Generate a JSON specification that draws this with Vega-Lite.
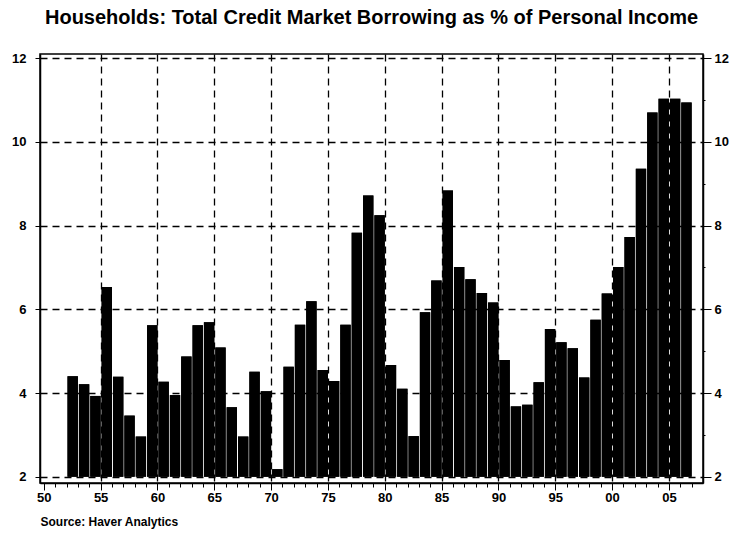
{
  "$schema": "https://vega.github.io/schema/vega-lite/v6.json",
  "width": 663,
  "height": 429,
  "autosize": "none",
  "padding": {"left": 40, "top": 54, "right": 33, "bottom": 53},
  "background": "white",
  "config": {
    "font": "Liberation Sans",
    "view": {"stroke": "black", "strokeWidth": 1.5},
    "axis": {"labelFont": "Liberation Sans", "labelFontWeight": "bold", "labelFontSize": 13, "labelColor": "black", "tickColor": "black", "domainColor": "black"}
  },
  "title": {
    "text": "Households: Total Credit Market Borrowing as % of Personal Income",
    "fontSize": 20,
    "fontWeight": "bold",
    "font": "Liberation Sans",
    "anchor": "middle",
    "offset": 24,
    "color": "black"
  },
  "data": {
    "values": [
      {"year": "1952", "value": 4.4},
      {"year": "1953", "value": 4.21},
      {"year": "1954", "value": 3.93},
      {"year": "1955", "value": 6.53},
      {"year": "1956", "value": 4.39},
      {"year": "1957", "value": 3.46},
      {"year": "1958", "value": 2.96},
      {"year": "1959", "value": 5.62},
      {"year": "1960", "value": 4.27},
      {"year": "1961", "value": 3.95},
      {"year": "1962", "value": 4.87},
      {"year": "1963", "value": 5.62},
      {"year": "1964", "value": 5.69},
      {"year": "1965", "value": 5.09},
      {"year": "1966", "value": 3.66},
      {"year": "1967", "value": 2.96},
      {"year": "1968", "value": 4.51},
      {"year": "1969", "value": 4.04},
      {"year": "1970", "value": 2.18},
      {"year": "1971", "value": 4.63},
      {"year": "1972", "value": 5.63},
      {"year": "1973", "value": 6.19},
      {"year": "1974", "value": 4.55},
      {"year": "1975", "value": 4.29},
      {"year": "1976", "value": 5.63},
      {"year": "1977", "value": 7.83},
      {"year": "1978", "value": 8.72},
      {"year": "1979", "value": 8.25},
      {"year": "1980", "value": 4.67},
      {"year": "1981", "value": 4.1},
      {"year": "1982", "value": 2.97},
      {"year": "1983", "value": 5.93},
      {"year": "1984", "value": 6.69},
      {"year": "1985", "value": 8.84},
      {"year": "1986", "value": 7.01},
      {"year": "1987", "value": 6.72},
      {"year": "1988", "value": 6.39},
      {"year": "1989", "value": 6.16},
      {"year": "1990", "value": 4.79},
      {"year": "1991", "value": 3.68},
      {"year": "1992", "value": 3.72},
      {"year": "1993", "value": 4.26},
      {"year": "1994", "value": 5.53},
      {"year": "1995", "value": 5.21},
      {"year": "1996", "value": 5.07},
      {"year": "1997", "value": 4.37},
      {"year": "1998", "value": 5.75},
      {"year": "1999", "value": 6.38},
      {"year": "2000", "value": 7.01},
      {"year": "2001", "value": 7.73},
      {"year": "2002", "value": 9.36},
      {"year": "2003", "value": 10.7},
      {"year": "2004", "value": 11.03},
      {"year": "2005", "value": 11.03},
      {"year": "2006", "value": 10.94}
    ]
  },
  "encoding": {
    "x": {
      "field": "year",
      "type": "temporal",
      "timeUnit": "year",
      "scale": {"domain": [{"year": 1949, "month": 9}, {"year": 2008, "month": 1}]},
      "axis": {
        "title": "Source: Haver Analytics",
        "titleAnchor": "start",
        "titleAlign": "left",
        "titleFontSize": 12,
        "titleFontWeight": "bold",
        "titleColor": "black",
        "titlePadding": 12,
        "values": [
          {"year": 1950}, {"year": 1951}, {"year": 1952}, {"year": 1953}, {"year": 1954},
          {"year": 1955}, {"year": 1956}, {"year": 1957}, {"year": 1958}, {"year": 1959},
          {"year": 1960}, {"year": 1961}, {"year": 1962}, {"year": 1963}, {"year": 1964},
          {"year": 1965}, {"year": 1966}, {"year": 1967}, {"year": 1968}, {"year": 1969},
          {"year": 1970}, {"year": 1971}, {"year": 1972}, {"year": 1973}, {"year": 1974},
          {"year": 1975}, {"year": 1976}, {"year": 1977}, {"year": 1978}, {"year": 1979},
          {"year": 1980}, {"year": 1981}, {"year": 1982}, {"year": 1983}, {"year": 1984},
          {"year": 1985}, {"year": 1986}, {"year": 1987}, {"year": 1988}, {"year": 1989},
          {"year": 1990}, {"year": 1991}, {"year": 1992}, {"year": 1993}, {"year": 1994},
          {"year": 1995}, {"year": 1996}, {"year": 1997}, {"year": 1998}, {"year": 1999},
          {"year": 2000}, {"year": 2001}, {"year": 2002}, {"year": 2003}, {"year": 2004},
          {"year": 2005}, {"year": 2006}, {"year": 2007}
        ],
        "labelExpr": "year(datum.value) % 5 == 0 ? timeFormat(datum.value, '%y') : ''",
        "labelFlush": false,
        "labelOverlap": false,
        "labelPadding": 1,
        "tickSize": {"condition": {"test": "year(datum.value) % 5 == 0", "value": 7}, "value": 4},
        "grid": true,
        "gridColor": "black",
        "gridDash": [7, 5],
        "gridWidth": 1.3,
        "gridOpacity": {"condition": {"test": "year(datum.value) % 5 == 0 && year(datum.value) > 1950", "value": 1}, "value": 0},
        "domain": true,
        "domainWidth": 1.5
      }
    },
    "y": {
      "field": "value",
      "type": "quantitative",
      "scale": {"domain": [1.85, 12.1], "zero": false, "nice": false}
    }
  },
  "layer": [
    {
      "mark": {"type": "bar", "color": "black", "timeUnitBandSize": 0.85, "timeUnitBandPosition": 0},
      "encoding": {
        "y": {
          "field": "value",
          "type": "quantitative",
          "axis": {
            "title": null,
            "orient": "left",
            "values": [2, 4, 6, 8, 10, 12],
            "tickSize": 5,
            "labelPadding": 9,
            "grid": true,
            "gridColor": "black",
            "gridDash": [7, 5],
            "gridWidth": 1.3,
            "domainWidth": 1.5
          }
        },
        "y2": {"datum": 2}
      }
    },
    {
      "mark": {"type": "bar", "color": "black", "timeUnitBandSize": 0.85, "timeUnitBandPosition": 0},
      "encoding": {
        "y": {
          "field": "value",
          "type": "quantitative",
          "axis": {
            "title": null,
            "orient": "right",
            "values": [2, 3, 4, 5, 6, 7, 8, 9, 10, 11, 12],
            "labelExpr": "datum.value % 2 == 0 ? datum.label : ''",
            "tickSize": {"condition": {"test": "datum.value % 2 == 0", "value": 8}, "value": 2},
            "labelPadding": 3,
            "grid": false,
            "domainWidth": 1.5
          }
        },
        "y2": {"datum": 2}
      }
    }
  ],
  "resolve": {"axis": {"y": "independent"}}
}
